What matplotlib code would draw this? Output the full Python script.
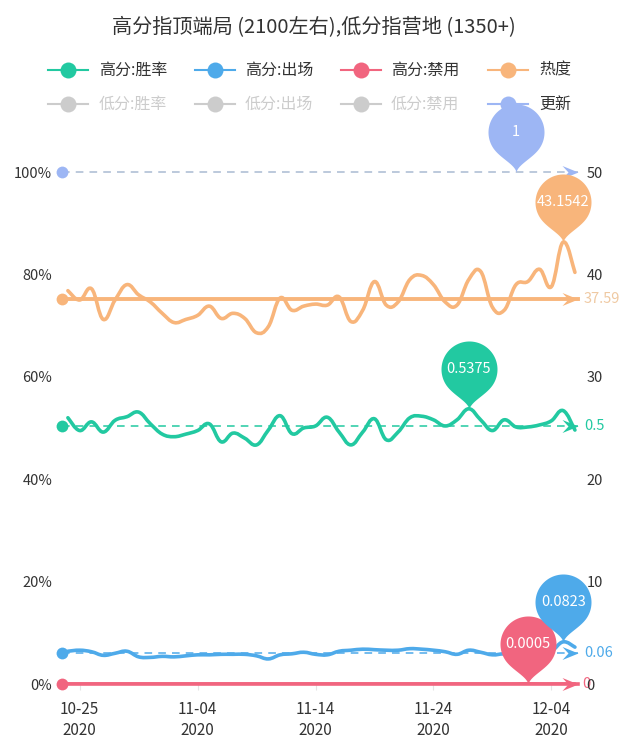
import numpy as np
import pandas as pd
import matplotlib
matplotlib.use('Agg')
import matplotlib.pyplot as plt
import matplotlib.dates as mdates
from matplotlib.path import Path
from matplotlib.patches import PathPatch
from matplotlib.lines import Line2D

plt.rcParams['font.family'] = ['Noto Sans CJK SC', 'DejaVu Sans']

W, H = 633, 741
TITLE = '高分指顶端局 (2100左右),低分指营地 (1350+)'

dates = pd.date_range('2020-10-24', '2020-12-06', freq='D')

win_rate = [0.520, 0.495, 0.512, 0.492, 0.515, 0.522, 0.531, 0.508, 0.488, 0.483, 0.488,
            0.495, 0.508, 0.473, 0.490, 0.480, 0.467, 0.496, 0.524, 0.489, 0.500, 0.504,
            0.521, 0.492, 0.467, 0.492, 0.518, 0.477, 0.492, 0.520, 0.523, 0.516, 0.504,
            0.516, 0.5375, 0.516, 0.495, 0.516, 0.502, 0.502, 0.506, 0.514, 0.534, 0.496]
pick_rate = [0.064, 0.066, 0.063, 0.056, 0.060, 0.064, 0.053, 0.052, 0.054, 0.053, 0.055,
             0.057, 0.057, 0.058, 0.058, 0.058, 0.055, 0.049, 0.057, 0.059, 0.062, 0.058,
             0.057, 0.064, 0.066, 0.068, 0.067, 0.066, 0.066, 0.069, 0.068, 0.066, 0.063,
             0.058, 0.066, 0.062, 0.057, 0.059, 0.058, 0.058, 0.060, 0.064, 0.0823, 0.072]
ban_rate = [0] * 39 + [0.0005] + [0] * 4
heat = [38.41, 37.5, 38.6, 35.6, 37.5, 39.0, 38.0, 37.3, 36.2, 35.3, 35.6, 36.0, 36.9,
        35.7, 36.2, 35.7, 34.3, 34.9, 37.7, 36.5, 36.9, 37.1, 37.0, 37.8, 35.4, 36.5,
        39.3, 37.0, 37.3, 39.5, 39.9, 39.0, 37.3, 37.0, 39.5, 40.3, 36.8, 36.5, 39.0,
        39.3, 40.5, 38.8, 43.1542, 40.2]
update = [np.nan] * 38 + [1] + [np.nan] * 5

xtick_dates = ['2020-10-25', '2020-11-04', '2020-11-14', '2020-11-24', '2020-12-04']
left_ticks = [0, 0.2, 0.4, 0.6, 0.8, 1.0]
left_labels = ['0%', '20%', '40%', '60%', '80%', '100%']
right_ticks = [0, 10, 20, 30, 40, 50]

legend_row1 = ['高分:胜率', '高分:出场', '高分:禁用', '热度']
legend_row2 = ['低分:胜率', '低分:出场', '低分:禁用', '更新']

C_WIN = '#22c9a1'
C_PICK = '#4eaaea'
C_BAN = '#f1657f'
C_HEAT = '#f8b57b'
C_UPD = '#9db6f4'
C_OFF = '#cccccc'
TXT = '#333333'


def smooth_path(x, y, k=0.2):
    pts = np.column_stack([x, y])
    n = len(pts)
    verts = [pts[0]]
    codes = [Path.MOVETO]
    for i in range(n - 1):
        p0 = pts[max(i - 1, 0)]
        p1 = pts[i]
        p2 = pts[i + 1]
        p3 = pts[min(i + 2, n - 1)]
        verts += [p1 + k * (p2 - p0), p2 - k * (p3 - p1), p2]
        codes += [Path.CURVE4] * 3
    return Path(verts, codes)


PIN_W, PIN_H = 56, 68


def make_pin(w=PIN_W, h=PIN_H):
    r = w / 2
    cy = h - r
    a = np.deg2rad(-35)
    P = np.array([r * np.cos(a), cy + r * np.sin(a)])
    d = np.array([np.sin(a), -np.cos(a)])
    c1 = P + 12 * d
    c2 = np.array([1.5, 8.0])
    t = np.linspace(0, 1, 20)[:, None]
    right = 3 * (1 - t) ** 2 * t * c2 + 3 * (1 - t) * t ** 2 * c1 + t ** 3 * P
    th = np.deg2rad(np.linspace(-35, 215, 60))
    arc = np.c_[r * np.cos(th), cy + r * np.sin(th)]
    left = right[::-1] * [-1, 1]
    verts = np.vstack([right, arc[1:], left[1:]])
    return Path(verts, closed=True)


PIN = make_pin()
PIN_MS = 2 * PIN_H * 0.72
ARROW = Path([(0, 0), (-16, 6.5), (-10, 0), (-16, -6.5), (0, 0)], closed=True)
ARROW_MS = 2 * 16 * 0.72

fig = plt.figure(figsize=(W / 100, H / 100), dpi=100)
ax = fig.add_axes([62 / W, 1 - 684 / H, (578 - 62) / W, (684 - 172) / H])
ax2 = ax.twinx()

xnum = mdates.date2num(dates)
x0 = xnum[0] - 0.5
x1 = xnum[-1] + 0.26
for a in (ax, ax2):
    a.set_xlim(x0, x1)
    for s in a.spines.values():
        s.set_visible(False)
ax.set_ylim(0, 1)
ax2.set_ylim(0, 50)

ax.set_yticks(left_ticks)
ax.set_yticklabels(left_labels)
ax2.set_yticks(right_ticks)
ax2.set_yticklabels([str(v) for v in right_ticks])
ax.tick_params(axis='y', length=0, pad=7, labelsize=10.5, labelcolor=TXT)
ax2.tick_params(axis='y', length=0, pad=6, labelsize=10.5, labelcolor=TXT)

xt = mdates.date2num(pd.to_datetime(xtick_dates))
ax.set_xticks(xt)
ax.set_xticklabels([pd.Timestamp(d).strftime('%m-%d') + '\n2020' for d in xtick_dates],
                   linespacing=1.3)
ax.tick_params(axis='x', length=4, color='#e4e4e4', pad=8, labelsize=11, labelcolor=TXT)


def draw_series(a, y, color, lw=2.6):
    y = np.asarray(y, dtype=float)
    a.add_patch(PathPatch(smooth_path(xnum, y), facecolor='none', edgecolor=color,
                          lw=lw, capstyle='round', joinstyle='round', zorder=3))


def draw_avg(a, y, color, line_color=None, ls=(0, (5, 4)), lw=1.1, label_color=None,
             show_label=True, label_dx=6):
    avg = np.nanmean(np.asarray(y, dtype=float))
    lc = line_color or color
    a.plot([x0, x1], [avg, avg], color=lc, ls=ls, lw=lw, zorder=2, clip_on=False)
    a.plot([x0], [avg], 'o', color=color, ms=8.5, mew=0, zorder=4, clip_on=False)
    a.plot([x1], [avg], marker=ARROW, color=color, ms=ARROW_MS, mew=0, zorder=4, clip_on=False)
    if show_label:
        txt = '%g' % round(avg, 2)
        a.annotate(txt, xy=(x1, avg), xytext=(label_dx, 0), textcoords='offset pixels',
                   va='center', ha='left', fontsize=10.5, color=label_color or color,
                   annotation_clip=False, zorder=5)
    return avg


def draw_pin(a, y, color, label):
    y = np.asarray(y, dtype=float)
    i = int(np.nanargmax(y))
    a.plot([xnum[i]], [y[i]], marker=PIN, color=color, ms=PIN_MS, mew=0,
           zorder=6, clip_on=False)
    a.annotate(label, xy=(xnum[i], y[i]), xytext=(0, PIN_H - PIN_W / 2), textcoords='offset pixels',
               ha='center', va='center', fontsize=10.5, color='white',
               annotation_clip=False, zorder=7)


# average lines (markLine)
draw_avg(ax, update, C_UPD, line_color='#a9bad2', show_label=False)
draw_avg(ax2, heat, C_HEAT, ls='-', lw=2.8, label_color='#efc9a2')
draw_avg(ax, win_rate, C_WIN)
draw_avg(ax, pick_rate, C_PICK)
draw_avg(ax, ban_rate, C_BAN, ls='-', lw=2.6, label_dx=4)

# series lines
draw_series(ax2, heat, C_HEAT)
draw_series(ax, win_rate, C_WIN)
draw_series(ax, pick_rate, C_PICK)
draw_series(ax, ban_rate, C_BAN)

# max pins (markPoint)
draw_pin(ax, update, C_UPD, '1')
draw_pin(ax2, heat, C_HEAT, '43.1542')
draw_pin(ax, win_rate, C_WIN, '0.5375')
draw_pin(ax, ban_rate, C_BAN, '0.0005')
draw_pin(ax, pick_rate, C_PICK, '0.0823')

# title
fig.text(314 / W, 1 - 28 / H, TITLE, ha='center', va='center', fontsize=14.5, color=TXT)

# legend
icon_x = [68, 215, 361, 508]
text_x = [99, 245, 391, 539]
row_y = [70, 104]
row1_colors = [C_WIN, C_PICK, C_BAN, C_HEAT]
row2_colors = [C_OFF, C_OFF, C_OFF, C_UPD]
for ry, labels, colors in [(row_y[0], legend_row1, row1_colors),
                           (row_y[1], legend_row2, row2_colors)]:
    for cx, tx, lab, col in zip(icon_x, text_x, labels, colors):
        yy = 1 - ry / H
        fig.add_artist(Line2D([(cx - 20) / W, (cx + 20) / W], [yy, yy], color=col,
                              lw=1.5, transform=fig.transFigure, zorder=1))
        fig.add_artist(Line2D([cx / W], [yy], marker='o', ms=11.5, color=col, mew=0,
                              transform=fig.transFigure, zorder=1))
        fig.text(tx / W, yy, lab, ha='left', va='center', fontsize=11.5,
                 color=TXT if col != C_OFF else C_OFF)

fig.savefig('out.png', dpi=100)
